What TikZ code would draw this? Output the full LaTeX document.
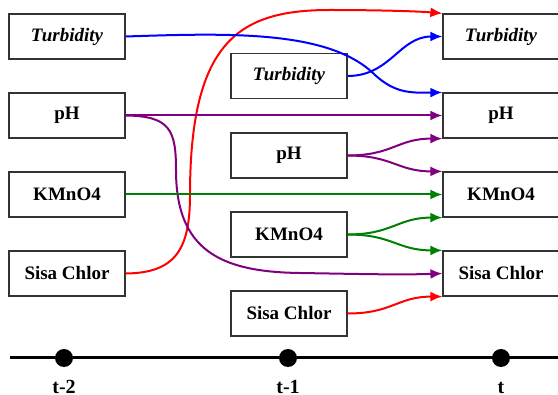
\documentclass[tikz,border=0pt]{standalone}
\usepackage{fontspec}
\setmainfont{Liberation Serif}
\usetikzlibrary{arrows.meta}
\definecolor{cred}{RGB}{255,0,0}
\definecolor{cblue}{RGB}{0,0,255}
\definecolor{cpurple}{RGB}{128,0,128}
\definecolor{cgreen}{RGB}{0,128,0}
\begin{document}
\begin{tikzpicture}[x=1pt,y=-1pt,
  box/.style={draw=black!80,line width=1.2pt,minimum width=116pt,minimum height=45pt,inner sep=0pt,
    font=\fontsize{19}{22}\selectfont\bfseries},
  itbox/.style={box,font=\fontsize{19}{22}\selectfont\bfseries\itshape},
  link/.style={line width=2pt,-{Latex[length=12pt,width=10pt]}},
  dot/.style={circle,fill=black,inner sep=0pt,minimum size=18pt},
  ticklabel/.style={font=\fontsize{20}{24}\selectfont\bfseries,anchor=base,inner sep=0pt}]
\useasboundingbox (0,0) rectangle (558,395);
% left column (t-2)
\node[itbox] (lt) at (67,36.5) {Turbidity};
\node[box] (lp) at (67,115.5) {pH};
\node[box] (lk) at (67,194.5) {KMnO4};
\node[box] (ls) at (67,273.5) {Sisa Chlor};
% middle column (t-1)
\node[itbox] (mt) at (289,76) {Turbidity};
\node[box] (mp) at (289,155.5) {pH};
\node[box] (mk) at (289,234.5) {KMnO4};
\node[box] (ms) at (289,313.5) {Sisa Chlor};
% right column (t)
\node[itbox] (rt) at (501,36.5) {Turbidity};
\node[box] (rp) at (501,115.5) {pH};
\node[box] (rk) at (501,194.5) {KMnO4};
\node[box] (rs) at (501,273.5) {Sisa Chlor};
% connectors
\draw[link,cred] (ls.east) .. controls (175,273) and (190,250) .. (190,195)
  .. controls (190,40) and (240,10) .. (330,10)
  .. controls (370,10) and (415,11) .. (rt.north west);
\draw[link,cblue] (lt.east) .. controls (230,33) and (330,30) .. (375,75)
  .. controls (395,93) and (410,93) .. (rp.north west);
\draw[link,cblue] (mt.east) .. controls +(43,0) and +(-43,0) .. (rt.west);
\draw[link,cpurple] (lp.east) -- (rp.west);
\draw[link,cpurple] (lp.east) .. controls (170,116) and (176,130) .. (176,170)
  .. controls (176,250) and (220,272) .. (300,273)
  .. controls (360,274) and (400,275) .. (rs.west);
\draw[link,cpurple] (mp.east) .. controls +(45,0) and +(-45,0) .. (rp.south west);
\draw[link,cpurple] (mp.east) .. controls +(45,0) and +(-45,0) .. (rk.north west);
\draw[link,cgreen] (lk.east) -- (rk.west);
\draw[link,cgreen] (mk.east) .. controls +(45,0) and +(-45,0) .. (rk.south west);
\draw[link,cgreen] (mk.east) .. controls +(45,0) and +(-45,0) .. (rs.north west);
\draw[link,cred] (ms.east) .. controls +(45,0) and +(-45,0) .. (rs.south west);
% timeline
\coordinate (axl) at (10,358);
\coordinate (axr) at (558,358);
\draw[line width=3pt] (axl) -- (axr);
\node[dot] (d1) at (64,358) {};
\node[dot] (d2) at (288,358) {};
\node[dot] (d3) at (501,358) {};
\node[ticklabel] (l1) at (64,394) {t-2};
\node[ticklabel] (l2) at (288,394) {t-1};
\node[ticklabel] (l3) at (501,394) {t};
\end{tikzpicture}
\end{document}
